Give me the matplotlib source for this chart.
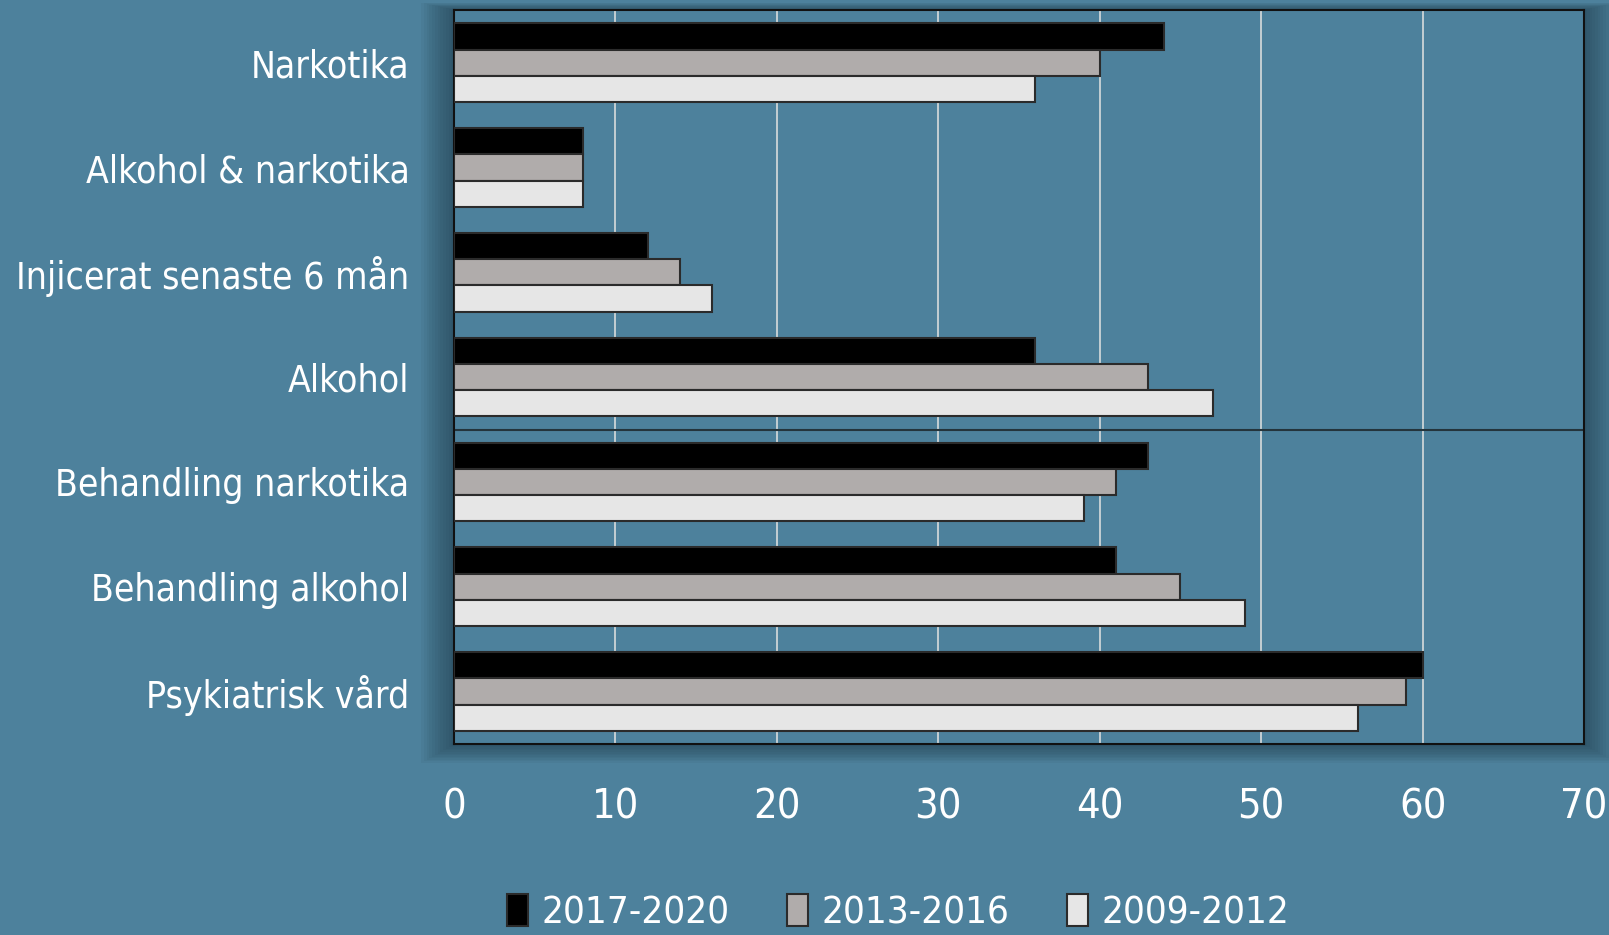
import matplotlib
matplotlib.use("Agg")
import matplotlib.pyplot as plt
import matplotlib.patches as mpatches
from matplotlib import font_manager as fm
import numpy as np

# data
categories = ["Narkotika", "Alkohol & narkotika", "Injicerat senaste 6 mån", "Alkohol",
              "Behandling narkotika", "Behandling alkohol", "Psykiatrisk vård"]
series_names = ["2017-2020", "2013-2016", "2009-2012"]
v_2017_2020 = [44, 8, 12, 36, 43, 41, 60]
v_2013_2016 = [40, 8, 14, 43, 41, 45, 59]
v_2009_2012 = [36, 8, 16, 47, 39, 49, 56]
x_ticks = [0, 10, 20, 30, 40, 50, 60, 70]

bg = "#4d819c"
colors = ["#000000", "#b0acab", "#e6e6e6"]


def pick_narrow_font():
    # the original uses a tall condensed face; take the narrowest regular sans we can find
    rank = {"ultra-condensed": 0, "extra-condensed": 1, "condensed": 2, "semi-condensed": 3}
    bad = ["mono", "serif", "italic", "oblique", "bold", "light", "thin", "medium",
           "black", "semibold", "extrabold", "cjk"]
    best = None
    for f in fm.fontManager.ttflist:
        low = f.fname.lower()
        if any(b in low for b in bad) or f.style != "normal":
            continue
        r = rank.get(str(f.stretch))
        if r is None:
            if "narrow" in low or "extracondensed" in low:
                r = 1
            elif "condensed" in low:
                r = 2
            else:
                continue
        if best is None or r < best[0]:
            best = (r, f.fname)
    if best:
        return fm.FontProperties(fname=best[1])
    return fm.FontProperties(family="DejaVu Sans")


fp = pick_narrow_font()

fig = plt.figure(figsize=(16.09, 9.35), dpi=100, facecolor=bg)
renderer = fig.canvas.get_renderer()


def size_for_width(text, width_px):
    p = fp.copy()
    p.set_size(20)
    t = fig.text(0, 0, text, fontproperties=p)
    w = t.get_window_extent(renderer).width
    t.remove()
    return 20 * width_px / w


ylab_size = min(size_for_width("Injicerat senaste 6 mån", 394), 38)
leg_size = min(size_for_width("2017-2020", 188), 38)
fy = fp.copy()
fy.set_size(ylab_size)
fl = fp.copy()
fl.set_size(leg_size)
fx = fp.copy()
fx.set_size(leg_size * 1.08)

ax = fig.add_axes([0.2822, 0.2043, 0.7023, 0.7847])
ax.set_facecolor(bg)

# soft shadow around the plot box
for i in range(12):
    pad = 0.0017 * (i + 1)
    sh = mpatches.Rectangle((0.2822 - pad, 0.2043 - pad * 1.0),
                            0.7023 + pad * 2, 0.7847 + pad * 1.4,
                            transform=fig.transFigure, facecolor="#1d3845",
                            edgecolor="none", alpha=0.06, zorder=-5)
    fig.patches.append(sh)

y = np.arange(len(categories))
h = 0.25
for k, vals in enumerate([v_2017_2020, v_2013_2016, v_2009_2012]):
    ax.barh(y + (k - 1) * h, vals, height=h, color=colors[k], edgecolor="#2b2b2b",
            linewidth=1.5, label=series_names[k], zorder=3)

ax.set_xlim(0, 70)
ax.set_ylim(len(categories) - 0.5, -0.5)
ax.set_xticks(x_ticks)
ax.set_yticks(y)
ax.set_yticklabels(categories)
for t in ax.get_yticklabels():
    t.set_fontproperties(fy)
    t.set_color("white")
for t in ax.get_xticklabels():
    t.set_fontproperties(fx)
    t.set_color("white")
ax.tick_params(axis="y", length=0, pad=32)
ax.tick_params(axis="x", length=0, pad=31)

ax.grid(axis="x", color="#d8dcdc", linewidth=1.2, zorder=1)
ax.axhline(3.5, color="#24343c", linewidth=1.5, zorder=2)
for s in ax.spines.values():
    s.set_color("#111111")
    s.set_linewidth(1.5)

fig.legend(loc="center", bbox_to_anchor=(0.558, 0.024), ncol=3, frameon=False,
           prop=fl, handlelength=0.55, handleheight=0.9,
           handletextpad=0.35, columnspacing=1.5, labelcolor="white")

plt.savefig("out.png", dpi=100, facecolor=bg)
